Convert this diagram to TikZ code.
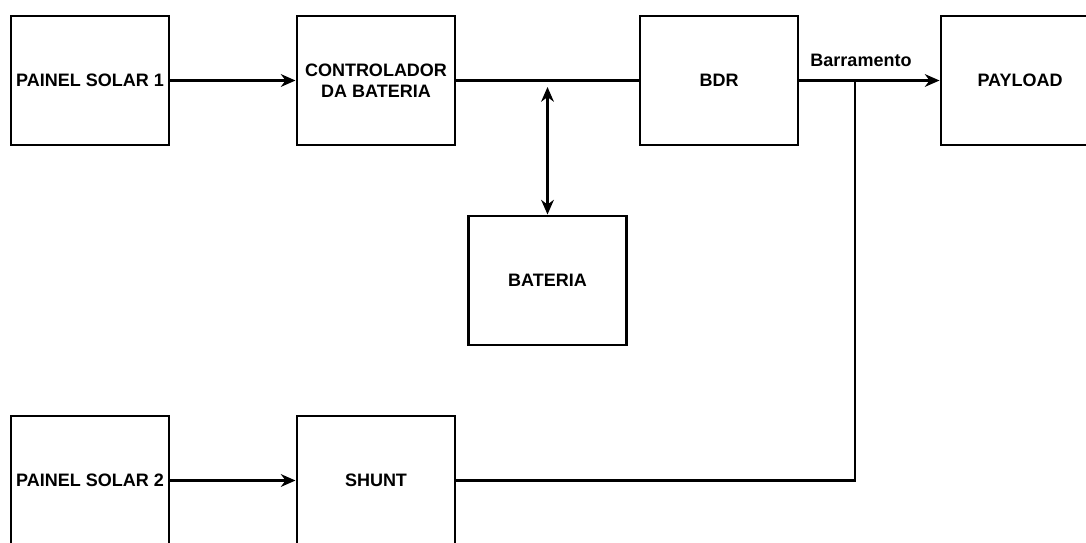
\documentclass[tikz,border=0pt]{standalone}
\usepackage{fontspec}
\setmainfont{Liberation Sans}
\usetikzlibrary{arrows.meta}
\begin{document}
\begin{tikzpicture}[x=0.75pt,y=-0.75pt,
  blk/.style={draw=black,line width=2.2pt,fill=white,minimum width=118.5pt,minimum height=96.75pt,inner sep=0pt,align=center,font=\bfseries\fontsize{13.5}{15.8}\selectfont},
  wire/.style={line width=1.9pt},
  tip/.tip={Stealth[length=11pt,width=9.5pt,inset=3.5pt]},
  arr/.style={wire,-tip},
  lbl/.style={font=\bfseries\fontsize{13.5}{15.8}\selectfont,inner sep=0pt}]
\clip (0,0) rectangle (1086,543);
\fill[white] (0,0) rectangle (1086,543);
\node[blk] (ps1) at (90,80.5) {PAINEL SOLAR 1};
\node[blk] (ctrl) at (376,80.5) {CONTROLADOR\\DA BATERIA};
\node[blk] (bdr) at (719,80.5) {BDR};
\node[blk] (pay) at (1020,80.5) {PAYLOAD};
\node[blk] (bat) at (547.5,280.5) {BATERIA};
\node[blk] (ps2) at (90,480.5) {PAINEL SOLAR 2};
\node[blk] (shunt) at (376,480.5) {SHUNT};
\coordinate (j1) at (547.5,87);
\coordinate (j2) at (855,80.5);
\node[lbl] (barr) at (861,60) {Barramento};
\draw[arr] (ps1) -- (ctrl);
\draw[wire] (ctrl) -- (bdr);
\draw[wire,tip-tip] (j1) -- (bat);
\draw[arr] (bdr) -- (pay);
\draw[arr] (ps2) -- (shunt);
\draw[wire] (shunt.east) -| (j2);
\end{tikzpicture}
\end{document}
